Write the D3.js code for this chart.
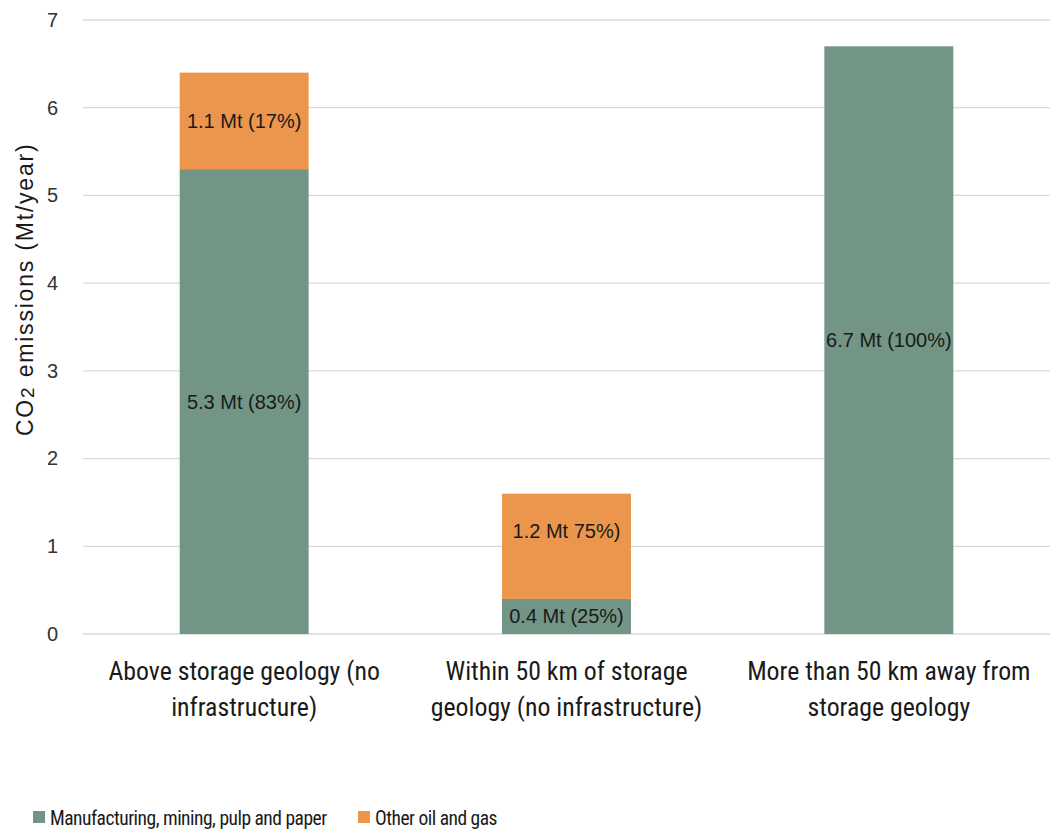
<!DOCTYPE html>
<html>
<head>
<meta charset="utf-8">
<script src="https://cdn.jsdelivr.net/npm/d3@7"></script>
<style>
  body { margin: 0; background: #fff; }
  svg { display: block; }
</style>
</head>
<body>
<svg id="chart" width="1053" height="835"></svg>
<script>
// Categories (two-line axis labels)
const categories = [
  "Above storage geology (no infrastructure)",
  "Within 50 km of storage geology (no infrastructure)",
  "More than 50 km away from storage geology"
];
const categoryLines = [
  ["Above storage geology (no", "infrastructure)"],
  ["Within 50 km of storage", "geology (no infrastructure)"],
  ["More than 50 km away from", "storage geology"]
];
const seriesNames = ["Manufacturing, mining, pulp and paper", "Other oil and gas"];
const manufacturing = [5.3, 0.4, 6.7];
const otherOilGas = [1.1, 1.2, 0];
const manufacturingLabels = ["5.3 Mt (83%)", "0.4 Mt (25%)", "6.7 Mt (100%)"];
const otherOilGasLabels = ["1.1 Mt (17%)", "1.2 Mt 75%)", ""];
const yTicks = [0, 1, 2, 3, 4, 5, 6, 7];
const colors = ["#729585", "#EB964C"];

const narrow = "Roboto Condensed, Liberation Sans Narrow, sans-serif";
const regular = "Liberation Sans, Arial, sans-serif";

const svg = d3.select("#chart");
const margin = { top: 20, right: 3, bottom: 201, left: 83 };
const width = 1053 - margin.left - margin.right;
const height = 835 - margin.top - margin.bottom;

const g = svg.append("g").attr("transform", `translate(${margin.left},${margin.top})`);

const x = d3.scaleBand().domain(categories).range([0, width]).paddingInner(0.6).paddingOuter(0.3);
const y = d3.scaleLinear().domain([0, 7]).range([height, 0]);

// Gridlines
g.append("g")
  .selectAll("line")
  .data(yTicks)
  .join("line")
  .attr("x1", 0).attr("x2", width)
  .attr("y1", d => y(d)).attr("y2", d => y(d))
  .attr("stroke", "#d9d9d9").attr("stroke-width", 1.3);

// Y tick labels
const yAxis = g.append("g").call(
  d3.axisLeft(y).tickValues(yTicks).tickFormat(d3.format("d")).tickSize(0).tickPadding(25)
);
yAxis.select(".domain").remove();
yAxis.selectAll("text")
  .attr("font-family", regular)
  .attr("font-size", 20)
  .attr("fill", "#333");

// Stacked data
const rows = categories.map((c, i) => ({
  cat: c,
  manufacturing: manufacturing[i],
  other: otherOilGas[i]
}));
const stack = d3.stack().keys(["manufacturing", "other"]);
const stacked = stack(rows);
const labelSets = [manufacturingLabels, otherOilGasLabels];

stacked.forEach((layer, k) => {
  g.append("g")
    .selectAll("rect")
    .data(layer.filter(d => d[1] - d[0] > 0))
    .join("rect")
    .attr("x", d => x(d.data.cat))
    .attr("width", x.bandwidth())
    .attr("y", d => y(d[1]))
    .attr("height", d => y(d[0]) - y(d[1]))
    .attr("fill", colors[k]);
});

// Segment value labels, centred in each segment
stacked.forEach((layer, k) => {
  g.append("g")
    .selectAll("text")
    .data(layer.map((d, i) => ({ d, i, label: labelSets[k][i] })).filter(o => o.label))
    .join("text")
    .attr("x", o => x(o.d.data.cat) + x.bandwidth() / 2)
    .attr("y", o => y((o.d[0] + o.d[1]) / 2) - (k === 1 && o.i === 1 ? 15 : 0))
    .attr("dy", "0.35em")
    .attr("text-anchor", "middle")
    .attr("font-family", regular)
    .attr("font-size", 20)
    .attr("fill", "#1a1a1a")
    .text(o => o.label);
});

// Category labels
const xl = g.append("g").attr("transform", `translate(0,${height})`);
categories.forEach((c, i) => {
  const cx = x(c) + x.bandwidth() / 2;
  const t = xl.append("text")
    .attr("x", cx)
    .attr("y", 46)
    .attr("text-anchor", "middle")
    .attr("font-family", narrow)
    .attr("font-size", 25.8)
    .attr("fill", "#1a1a1a");
  categoryLines[i].forEach((line, j) => {
    t.append("tspan").attr("x", cx).attr("dy", j === 0 ? 0 : 36).text(line);
  });
});

// Y axis title
const title = svg.append("text")
  .attr("transform", `translate(33,${margin.top + y(3.93)}) rotate(-90)`)
  .attr("text-anchor", "middle")
  .attr("font-family", regular)
  .attr("font-size", 23)
  .attr("letter-spacing", 1.8)
  .attr("fill", "#1a1a1a");
title.append("tspan").text("CO");
title.append("tspan").attr("font-size", 19).attr("dy", 1).text("2");
title.append("tspan").attr("dy", -1).text(" emissions (Mt/year)");

// Legend
const legendX = [33, 358];
const legend = svg.append("g");
seriesNames.forEach((name, i) => {
  legend.append("rect")
    .attr("x", legendX[i]).attr("y", 811)
    .attr("width", 12).attr("height", 12)
    .attr("fill", colors[i]);
  legend.append("text")
    .attr("x", legendX[i] + 17).attr("y", 825)
    .attr("font-family", narrow)
    .attr("font-size", 19.5)
    .attr("letter-spacing", -0.5)
    .attr("fill", "#1a1a1a")
    .text(name);
});
</script>
</body>
</html>
